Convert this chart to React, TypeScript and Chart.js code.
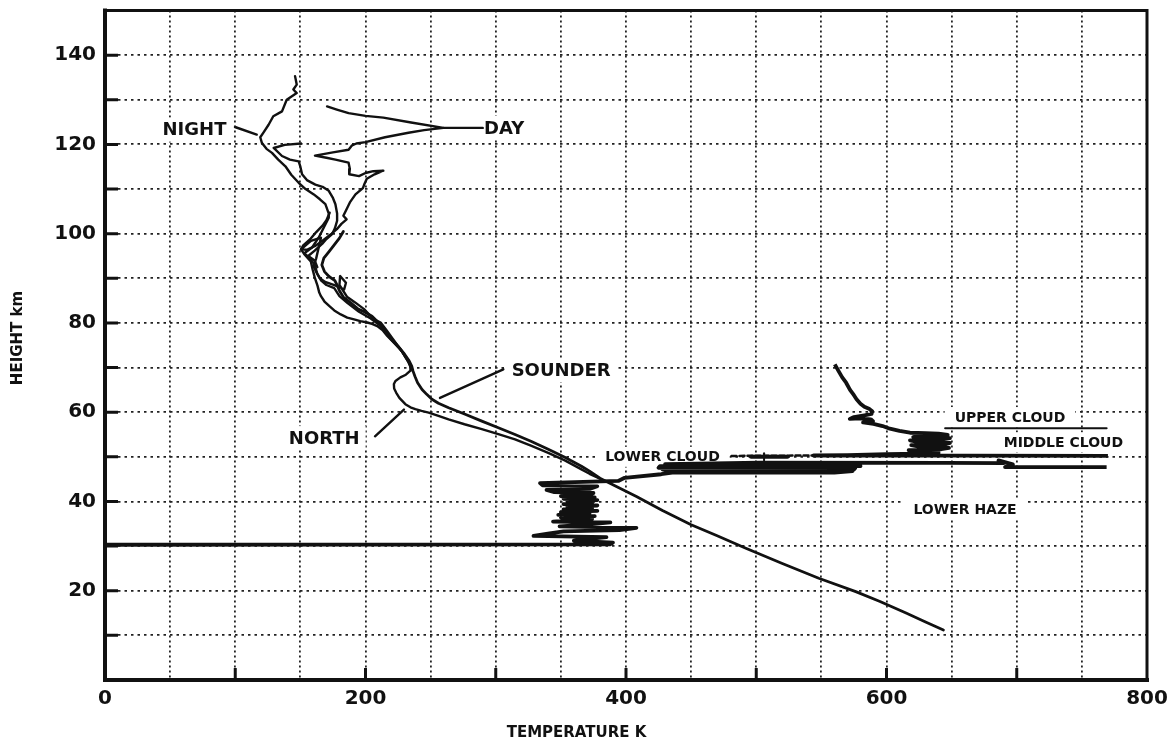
import { useEffect, useRef } from 'react';
import { Chart, registerables } from 'chart.js';

Chart.register(...registerables);

// Points are [temperature K, height km]
type Pt = [number, number];

const xRange: Pt = [0, 800];
const yRange: Pt = [0, 150];
const xLabelEvery = 200;
const yLabelEvery = 20;

const nightProfile: Pt[] = [
  [145.9, 135.3], [147.2, 133.4], [144.6, 132.3], [147.2, 131.5], [139.5, 130], [135.9, 127.4],
  [129.2, 126.3], [125.6, 124.4], [121.5, 122.6], [119.2, 121.6], [120.5, 120.3], [124, 119],
  [128.2, 118.1], [133, 116.6], [138.5, 115.1], [143, 113.2], [148.7, 111.4], [154, 110],
  [160.3, 108.8], [165, 107.7], [169.2, 106.6], [171.8, 104.5], [171.8, 103.6], [168, 101.4],
  [164, 99.1], [159, 96.9], [153, 95.6], [157, 94.6], [161, 93], [163, 91], [166, 89.5],
  [170, 88.5], [176, 87.8], [180, 86], [186, 84.5], [195, 82.5], [204, 81], [211, 79.5],
  [219, 76.5], [228, 73.6], [233.5, 71], [236, 69.4],
];

const nightBranch: Pt[] = [
  [150.5, 120.2], [138, 119.9], [129.5, 119.2], [135.9, 117.4], [142, 116.6], [148.7, 116.2],
  [150, 115], [151.3, 113.3], [155, 112], [161.5, 111], [167, 110.5], [171.8, 109.6],
  [175, 108], [176.9, 106.6], [178.2, 104.5], [178.2, 102.9], [176.5, 101.2], [174.4, 99.9],
  [170, 98.8], [166.7, 97.7], [161, 96.2], [156, 95], [161, 94], [163, 92.5],
];

const dayProfile: Pt[] = [
  [170.5, 128.5], [178, 127.8], [187, 127], [200, 126.4], [213.7, 126], [235, 124.9],
  [259.8, 123.7], [245, 123.2], [233, 122.6], [215, 121.6], [200, 120.5], [193, 120.2],
  [189.7, 119.8], [187, 118.8], [175, 118.2], [161.2, 117.5], [170, 117], [176.9, 116.6],
  [187, 115.9], [188, 114.5], [187.5, 113.3], [195, 112.9], [200, 113.6], [206, 114],
  [213.7, 114.1], [207, 113.3], [201, 112.3], [199, 111], [198, 110.2], [192.3, 108.8],
  [188, 107], [185, 105.2], [183, 104], [185.5, 103.2], [181.5, 102.2], [178, 101],
  [174, 100], [167, 98.4], [161, 97.2], [155, 96.4], [150.5, 96.5], [158.1, 98.4],
  [165.8, 99.1], [162, 94.3], [160, 92.8], [162, 91.5], [165, 90], [169, 89.2], [175, 88.6],
  [179.5, 88.1], [183.6, 87.5], [185, 89], [180.5, 90.5], [180, 88.5], [186, 85.8],
  [192, 84.6], [198.9, 83.1], [203, 81.8], [206.5, 80.8], [211.6, 80.1], [216, 78.4],
  [222, 76], [228.5, 73.4], [233, 71.2], [235, 69.8],
];

const northProfile: Pt[] = [
  [172.5, 104.7], [170, 103], [167, 101.8], [162, 100.3], [158, 98.9], [152, 97.3],
  [150.5, 96.5], [153, 95.4], [158, 93.8], [159.4, 92], [161, 90.2], [163.2, 88.3],
  [164.5, 86.8], [165.8, 86], [168.5, 84.8], [172.1, 83.8], [176, 82.8], [181, 81.9],
  [186, 81.2], [191.2, 80.8], [196, 80.4], [201.4, 80.1], [205, 79.8], [209, 79.3],
  [213, 78.4], [216.7, 77.1], [222, 75.5], [226.8, 74.1], [230.5, 72.6], [233.2, 71.5],
  [234.5, 70.3], [234.5, 69.3], [231, 68.4], [226.8, 67.8], [223, 67], [221.8, 66.3],
  [222, 65.3], [223.5, 64.4], [226, 63.2], [230.6, 61.8], [234.5, 61.1], [238.3, 60.7],
  [243, 60.3], [248.5, 59.9], [256, 59.2], [263.8, 58.4], [276, 57.3], [289.3, 56.2],
  [302, 55.1], [314.8, 53.9], [327, 52.5], [340.3, 50.9], [353, 49.2], [365.8, 47.2],
  [372, 46.2], [380, 45.1],
];

const sounderProfile: Pt[] = [
  [183, 100.5], [180, 99], [176, 97.5], [172, 96], [168, 94.5], [166.5, 93], [168.5, 91.5],
  [172, 90.4], [176.5, 89.5], [178.5, 88.3], [180, 87.2], [183, 85.8], [188.7, 84.5],
  [194, 83.2], [199, 82.5], [205, 81.5], [209.5, 80.2], [214, 78.8], [219.5, 76.6],
  [225, 74.8], [230, 73], [233.5, 71.5], [235.5, 70.3], [236.5, 69.2], [238, 68], [240, 66.6],
  [243.4, 65.1], [247, 64], [251, 62.9], [256, 62], [263.8, 61], [276, 59.6], [289.3, 58],
  [302, 56.5], [314.8, 55], [327, 53.5], [340.3, 51.7], [353, 49.9], [365.8, 47.9],
  [372, 46.8], [380, 45.2], [393, 43.3], [408, 41.1], [428, 38], [450, 34.8], [470, 32.3],
  [492, 29.5], [520, 26.1], [548, 22.8], [576.4, 19.8], [595, 17.6], [615, 15], [630, 13],
  [643.7, 11.2],
];

// Cloud particle trace, upper and middle cloud
const upperCloudTrace: Pt[] = [
  [560.3, 70.7], [563, 69.3], [566, 67.8], [569, 66.6], [572, 65], [575, 63.8], [577, 62.9],
  [580, 61.9], [583, 61.2], [587, 60.7], [589, 60.2], [588.5, 59.6], [583, 59.3], [575, 58.9],
  [571.8, 58.5], [580, 58.6], [588, 58.4], [589.7, 58], [582, 57.7], [590, 57.4], [597, 56.9],
  [602.6, 56.3], [610, 55.8], [618, 55.4], [630, 55.3], [640, 55.2], [647, 54.9], [625, 54.7],
  [620.5, 54.4], [648.7, 54.2], [643, 53.9], [618, 53.7], [623, 53.4], [648.7, 53.1],
  [645, 52.8], [619, 52.6], [625, 52.3], [648, 52], [642, 51.7], [617, 51.5], [622, 51.2],
  [640, 50.9], [625, 50.7], [600, 50.6], [570, 50.4], [544, 50.3], [660, 50.25], [770, 50.2],
];

// Cloud particle trace, lower cloud and haze down to the 30 km base
const lowerCloudTrace: Pt[] = [
  [769, 47.7], [691, 47.7], [697, 48.3], [686, 49.2], [690, 48.6], [646, 48.65], [503, 48.7],
  [430, 48.35], [576, 48.2], [580, 47.9], [426, 47.9], [425, 47.55], [576, 47.5], [575, 47.15],
  [428, 47.2], [432, 46.85], [574, 46.8], [560, 46.45], [437, 46.5], [427, 46.1], [399, 45.3],
  [394, 44.6], [334, 44.1], [336, 43.6], [378, 43.4], [372, 42.8], [339, 42.6], [345, 42.1],
  [375, 41.9], [372, 41.4], [350, 41.2], [376, 40.9], [352, 40.6], [378, 40.3], [355, 40],
  [374, 39.7], [352, 39.4], [378, 39.1], [355, 38.8], [374, 38.5], [352, 38.2], [378, 37.9],
  [350, 37.6], [372, 37.3], [348, 37], [376, 36.7], [350, 36.4], [374, 36.1], [344, 35.5],
  [388, 35.3], [370, 34.8], [349, 34.4], [408, 34.1], [395, 33.6], [352, 33.3], [340, 32.8],
  [329, 32.3], [385, 32], [372, 31.6], [360, 31.2], [390, 30.8], [387.7, 30.4], [0, 30.3],
];

const lowerCloudDashes: Pt[] = [[481, 50.2], [544, 50.3]];
const lowerCloudSpot: Pt[] = [[496, 50.0], [524, 50.0]];
const lowerCloudSpotTick: Pt[] = [[506, 49.2], [506, 50.8]];
const upperCloudBase: Pt[] = [[645, 56.4], [769, 56.4]];

const nightLeader: Pt[] = [[99.8, 123.9], [116.5, 122.2]];
const dayLeader: Pt[] = [[259.8, 123.7], [290, 123.7]];
const sounderLeader: Pt[] = [[257.2, 63.2], [305.8, 69.6]];
const northLeader: Pt[] = [[207.3, 54.6], [229.5, 60.6]];

type TextLabel = { text: string; at: Pt; align: 'left' | 'center'; kind: 'curve' | 'region' };
const textLabels: TextLabel[] = [
  { text: 'NIGHT', at: [68.7, 123.3], align: 'center', kind: 'curve' },
  { text: 'DAY', at: [291, 123.7], align: 'left', kind: 'curve' },
  { text: 'SOUNDER', at: [312.2, 69.4], align: 'left', kind: 'curve' },
  { text: 'NORTH', at: [168.3, 54.2], align: 'center', kind: 'curve' },
  { text: 'LOWER CLOUD', at: [428, 50.0], align: 'center', kind: 'region' },
  { text: 'UPPER CLOUD', at: [694.8, 58.9], align: 'center', kind: 'region' },
  { text: 'MIDDLE CLOUD', at: [735.8, 53.25], align: 'center', kind: 'region' },
  { text: 'LOWER HAZE', at: [660.3, 38.3], align: 'center', kind: 'region' },
];

const xTitle = 'TEMPERATURE K';
const yTitle = 'HEIGHT km';

const INK = '#111111';
const FAMILY = '"DejaVu Sans", sans-serif';
const labelFont: Record<TextLabel['kind'], string> = {
  curve: `bold 18px ${FAMILY}`,
  region: `bold 14px ${FAMILY}`,
};

const toXY = (pts: Pt[]) => pts.map(([x, y]) => ({ x, y }));

const line = (pts: Pt[], width: number, dash: number[] = [], cap: 'round' | 'butt' = 'round') => ({
  data: toXY(pts),
  showLine: true,
  borderColor: INK,
  backgroundColor: INK,
  borderWidth: width,
  borderDash: dash,
  pointRadius: 0,
  pointHoverRadius: 0,
  tension: 0,
  fill: false,
  borderJoinStyle: 'round' as const,
  borderCapStyle: cap,
});

const framePlugin = {
  id: 'frameAndText',
  beforeDatasetsDraw(chart: any) {
    const { ctx, scales } = chart;
    ctx.save();
    ctx.fillStyle = '#ffffff';
    for (const l of textLabels) {
      ctx.font = labelFont[l.kind];
      const w = ctx.measureText(l.text).width;
      const h = l.kind === 'curve' ? 16 : 12;
      const px = scales.x.getPixelForValue(l.at[0]);
      const py = scales.y.getPixelForValue(l.at[1]);
      const left = l.align === 'left' ? px : px - w / 2;
      const padX = l.kind === 'curve' ? 6 : 10;
      ctx.fillRect(left - padX, py - h / 2 - 4, w + padX * 2, h + 8);
    }
    ctx.restore();
  },
  afterDatasetsDraw(chart: any) {
    const { ctx, chartArea, scales } = chart;
    const { left, right, top, bottom } = chartArea;
    ctx.save();
    ctx.strokeStyle = INK;
    ctx.lineCap = 'square';
    // frame
    ctx.lineWidth = 3;
    ctx.beginPath();
    ctx.moveTo(left, top);
    ctx.lineTo(right, top);
    ctx.lineTo(right, bottom);
    ctx.stroke();
    ctx.lineWidth = 4;
    ctx.beginPath();
    ctx.moveTo(left, top);
    ctx.lineTo(left, bottom);
    ctx.lineTo(right, bottom);
    ctx.stroke();
    // inward tick marks
    ctx.lineWidth = 3;
    ctx.lineCap = 'butt';
    ctx.beginPath();
    for (let v = 10; v < yRange[1]; v += 10) {
      const py = scales.y.getPixelForValue(v);
      ctx.moveTo(left, py);
      ctx.lineTo(left + 13, py);
    }
    for (let v = 100; v < xRange[1]; v += 100) {
      const px = scales.x.getPixelForValue(v);
      ctx.moveTo(px, bottom);
      ctx.lineTo(px, bottom - 12);
    }
    ctx.stroke();
    // curve and region labels
    ctx.fillStyle = INK;
    ctx.textBaseline = 'middle';
    for (const l of textLabels) {
      ctx.font = labelFont[l.kind];
      ctx.textAlign = l.align;
      ctx.fillText(l.text, scales.x.getPixelForValue(l.at[0]), scales.y.getPixelForValue(l.at[1]) + 1);
    }
    // axis titles
    ctx.font = `bold 15px ${FAMILY}`;
    ctx.textAlign = 'center';
    ctx.fillText(xTitle, scales.x.getPixelForValue(362), 733);
    ctx.translate(18, 338);
    ctx.rotate(-Math.PI / 2);
    ctx.fillText(yTitle, 0, 0);
    ctx.restore();
  },
};

export default function App() {
  const canvasRef = useRef<HTMLCanvasElement | null>(null);

  useEffect(() => {
    document.body.style.margin = '0';
    const canvas = canvasRef.current;
    if (!canvas) return;
    Chart.defaults.font.family = FAMILY;

    const chart = new Chart(canvas, {
      type: 'scatter',
      data: {
        datasets: [
          line(nightProfile, 2.4),
          line(nightBranch, 2.4),
          line(dayProfile, 2.4),
          line(northProfile, 2.4),
          line(sounderProfile, 2.8),
          line(upperCloudTrace, 3.8, [], 'butt'),
          line(lowerCloudTrace, 3.8, [], 'butt'),
          line(lowerCloudDashes, 2.5, [5, 3]),
          line(lowerCloudSpot, 4),
          line(lowerCloudSpotTick, 2),
          line(upperCloudBase, 2),
          line(nightLeader, 2.4),
          line(dayLeader, 2.4),
          line(sounderLeader, 2.4),
          line(northLeader, 2.4),
        ] as any,
      },
      options: {
        animation: false,
        responsive: false,
        maintainAspectRatio: false,
        events: [],
        layout: { padding: { left: 0, right: 24, top: 10.5, bottom: 0 } },
        plugins: { legend: { display: false }, tooltip: { enabled: false }, title: { display: false } },
        scales: {
          x: {
            type: 'linear',
            min: xRange[0],
            max: xRange[1],
            ticks: {
              stepSize: 50,
              autoSkip: false,
              maxRotation: 0,
              padding: 7,
              color: INK,
              font: { size: 20, weight: 'bold', family: FAMILY },
              callback: (v: any) => (Number(v) % xLabelEvery === 0 ? String(v) : ''),
            },
            grid: { color: '#222222', lineWidth: 1.8, drawTicks: false },
            border: { display: false, dash: [2, 3] },
            afterFit: (s: any) => {
              s.height = 62;
              s.paddingLeft = 0;
              s.paddingRight = 0;
            },
          },
          y: {
            type: 'linear',
            min: yRange[0],
            max: yRange[1],
            ticks: {
              stepSize: 10,
              autoSkip: false,
              padding: 9,
              color: INK,
              font: { size: 20, weight: 'bold', family: FAMILY },
              callback: (v: any) => {
                const n = Number(v);
                return n > 0 && n < yRange[1] && n % yLabelEvery === 0 ? String(n) : '';
              },
            },
            grid: { color: '#222222', lineWidth: 1.8, drawTicks: false },
            border: { display: false, dash: [2.5, 4] },
            afterFit: (s: any) => {
              s.width = 105;
              s.paddingTop = 0;
              s.paddingBottom = 0;
            },
          },
        },
      } as any,
      plugins: [framePlugin],
    });

    return () => chart.destroy();
  }, []);

  return (
    <div style={{ position: 'absolute', left: 0, top: 0, width: 1171, height: 742, background: '#fff' }}>
      <canvas ref={canvasRef} width={1171} height={742} style={{ display: 'block' }} />
    </div>
  );
}
